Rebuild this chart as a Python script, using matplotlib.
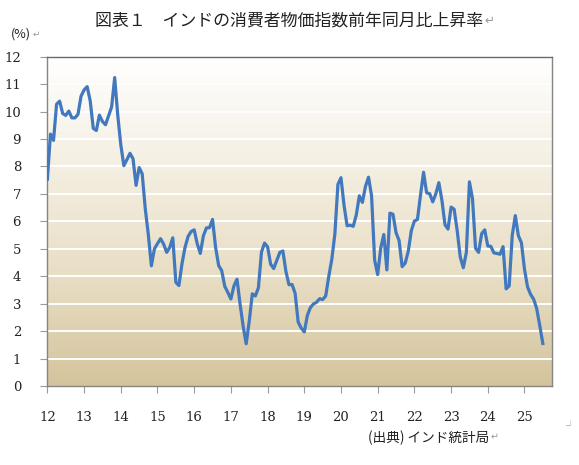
import numpy as np
import matplotlib
matplotlib.use("Agg")
import matplotlib.pyplot as plt
from matplotlib.colors import LinearSegmentedColormap

# India CPI, year-on-year change (%), monthly, Jan 2012 - Jul 2025
cpi_2012 = [7.54, 9.18, 8.95, 10.27, 10.38, 9.93, 9.86, 10.02, 9.77, 9.77, 9.90, 10.56]
cpi_2013 = [10.79, 10.91, 10.39, 9.39, 9.31, 9.87, 9.64, 9.52, 9.84, 10.17, 11.24, 9.87]
cpi_2014 = [8.79, 8.03, 8.25, 8.48, 8.28, 7.31, 7.96, 7.73, 6.46, 5.52, 4.38, 5.00]
cpi_2015 = [5.19, 5.37, 5.17, 4.87, 5.05, 5.40, 3.78, 3.66, 4.45, 5.05, 5.45, 5.63]
cpi_2016 = [5.69, 5.18, 4.83, 5.47, 5.76, 5.77, 6.07, 5.05, 4.39, 4.20, 3.63, 3.41]
cpi_2017 = [3.17, 3.65, 3.89, 2.99, 2.18, 1.54, 2.36, 3.36, 3.28, 3.58, 4.88, 5.21]
cpi_2018 = [5.07, 4.44, 4.28, 4.58, 4.87, 4.92, 4.17, 3.69, 3.70, 3.38, 2.33, 2.11]
cpi_2019 = [1.97, 2.57, 2.86, 2.99, 3.05, 3.18, 3.15, 3.28, 3.99, 4.62, 5.54, 7.35]
cpi_2020 = [7.59, 6.58, 5.84, 5.86, 5.82, 6.23, 6.93, 6.69, 7.27, 7.61, 6.93, 4.59]
cpi_2021 = [4.06, 5.03, 5.52, 4.23, 6.30, 6.26, 5.59, 5.30, 4.35, 4.48, 4.91, 5.66]
cpi_2022 = [6.01, 6.07, 6.95, 7.79, 7.04, 7.01, 6.71, 7.00, 7.41, 6.77, 5.88, 5.72]
cpi_2023 = [6.52, 6.44, 5.66, 4.70, 4.31, 4.87, 7.44, 6.83, 5.02, 4.87, 5.55, 5.69]
cpi_2024 = [5.10, 5.09, 4.85, 4.83, 4.80, 5.08, 3.54, 3.65, 5.49, 6.21, 5.48, 5.22]
cpi_2025 = [4.26, 3.61, 3.34, 3.16, 2.82, 2.20, 1.55]

years = list(range(2012, 2026))
year_labels = [str(y - 2000) for y in years]

cpi = (cpi_2012 + cpi_2013 + cpi_2014 + cpi_2015 + cpi_2016 + cpi_2017 + cpi_2018
       + cpi_2019 + cpi_2020 + cpi_2021 + cpi_2022 + cpi_2023 + cpi_2024 + cpi_2025)
x = 2012 + np.arange(len(cpi)) / 12.0

jp = ["Noto Sans CJK JP", "DejaVu Sans"]
W, H = 579, 465

fig = plt.figure(figsize=(W / 100, H / 100), dpi=100)
fig.patch.set_facecolor("white")
ax = fig.add_axes([47.4 / W, 1 - 386 / H, (552 - 47.4) / W, (386 - 56.7) / H])

# gradient background (white at top -> beige at bottom)
cmap = LinearSegmentedColormap.from_list("bg", ["#FFFFFF", "#F4EFE2", "#E8DEC4", "#D4C49C"])
grad = np.linspace(0, 1, 256).reshape(-1, 1)
ax.imshow(grad, extent=[2012, 2025.75, 0, 12], aspect="auto", cmap=cmap,
          origin="upper", zorder=0)

for v in range(1, 12):
    ax.axhline(v, color="white", lw=1.4, zorder=1)

ax.plot(x, cpi, color="#4178BE", lw=2.3, zorder=3, solid_joinstyle="round")

ax.set_xlim(2012, 2025.75)
ax.set_ylim(0, 12)
ax.set_xticks(years)
ax.set_xticklabels(year_labels)
ax.set_yticks(range(13))

for s in ax.spines.values():
    s.set_color("#858585")
    s.set_linewidth(1.0)
ax.spines["top"].set_color("#6a6a6a")

ax.tick_params(axis="both", direction="out", length=5, color="#9a9a9a", width=0.8)
ax.tick_params(axis="x", pad=13)
ax.tick_params(axis="y", pad=14)
for lab in ax.get_xticklabels() + ax.get_yticklabels():
    lab.set_fontfamily("DejaVu Serif")
    lab.set_fontsize(9.5)
    lab.set_color("#222222")


def with_mark(px, py, s, size, ha="left"):
    """text plus a gray paragraph mark right after it"""
    t = fig.text(px / W, 1 - py / H, s, family=jp, fontsize=size, ha=ha,
                 va="center", color="#222222")
    fig.canvas.draw()
    bb = t.get_window_extent()
    fig.text(bb.x1 / W + 0.002, 1 - py / H, "↵", family=jp, fontsize=size * 0.7,
             ha="left", va="center", color="#999999")


with_mark(289, 20, "図表１　インドの消費者物価指数前年同月比上昇率", 12.2, ha="center")
with_mark(11, 34, "(%)", 9)
with_mark(368, 438, "(出典) インド統計局", 9.8)
fig.text(570 / W, 1 - 426 / H, "┘", family=jp, fontsize=7, ha="center", va="center", color="#aaaaaa")

fig.savefig("out.png", dpi=100, facecolor="white")
